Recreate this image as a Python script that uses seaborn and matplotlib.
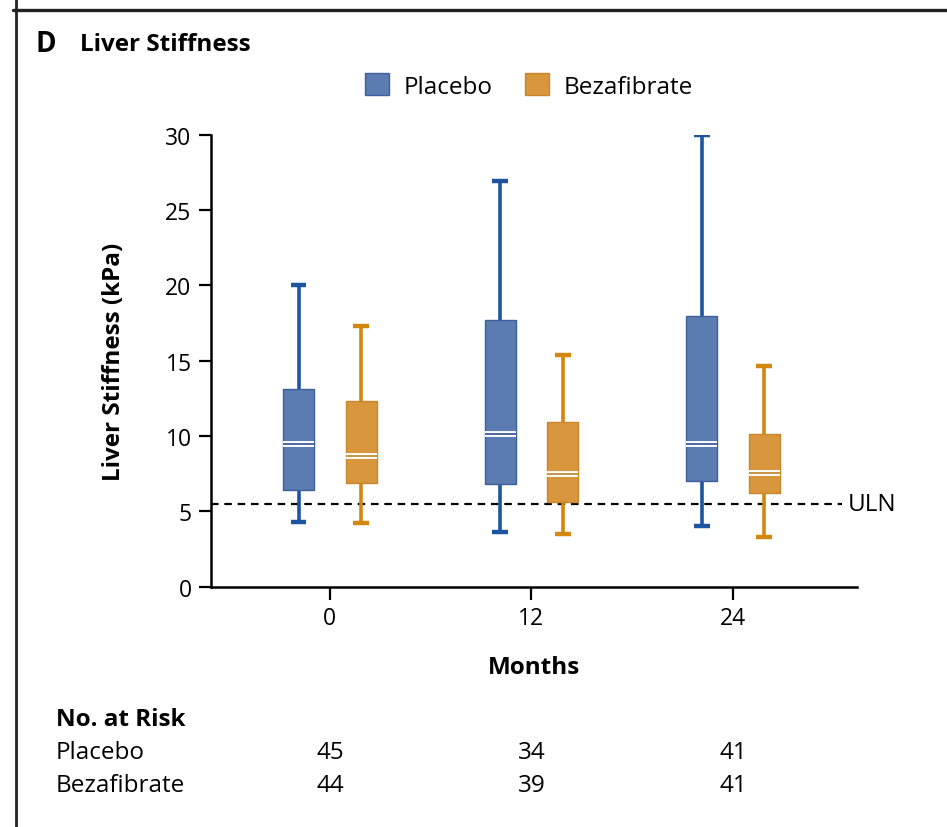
import matplotlib
matplotlib.use("Agg")
import matplotlib.pyplot as plt
import matplotlib.patheffects as pe
from matplotlib.patches import Patch
from matplotlib.lines import Line2D
import seaborn as sns
import pandas as pd

# ---- data (five-number summaries) ----
months = ["0", "12", "24"]
groups = ["Placebo", "Bezafibrate"]
placebo_low = [4.3, 3.6, 4.0]
placebo_q1 = [6.4, 6.8, 7.0]
placebo_med = [9.5, 10.15, 9.45]
placebo_q3 = [13.1, 17.7, 18.0]
placebo_high = [20.0, 26.9, 29.95]
beza_low = [4.2, 3.5, 3.3]
beza_q1 = [6.9, 5.6, 6.2]
beza_med = [8.65, 7.5, 7.55]
beza_q3 = [12.35, 10.9, 10.15]
beza_high = [17.3, 15.35, 14.65]
uln = 5.5
risk_placebo = [45, 34, 41]
risk_beza = [44, 39, 41]
yticks = [0, 5, 10, 15, 20, 25, 30]

rows = []
for i, m in enumerate(months):
    for v in (placebo_low[i], placebo_q1[i], placebo_med[i], placebo_q3[i], placebo_high[i]):
        rows.append({"Months": m, "Group": "Placebo", "Value": v})
    for v in (beza_low[i], beza_q1[i], beza_med[i], beza_q3[i], beza_high[i]):
        rows.append({"Months": m, "Group": "Bezafibrate", "Value": v})
df = pd.DataFrame(rows)

fills = ["#5b7cb1", "#d8963d"]
edges = ["#3d609c", "#c9862c"]
darks = ["#1d55a0", "#d4870e"]
meds = ["#1f3c88", "#b8760f"]

sns.set_style("white")
plt.rcParams["font.family"] = ["Open Sans", "DejaVu Sans"]
plt.rcParams["text.color"] = "black"
plt.rcParams["axes.labelcolor"] = "black"
plt.rcParams["xtick.color"] = "black"
plt.rcParams["ytick.color"] = "black"

FS = 17.5
TFS = 16.5
BFS = 17.5

fig = plt.figure(figsize=(9.47, 8.28), dpi=100)
ax = fig.add_axes([211 / 947, 1 - 587.7 / 828, (857 - 211) / 947, (587.7 - 135.7) / 828])

sns.boxplot(data=df, x="Months", y="Value", hue="Group", order=months, hue_order=groups,
            palette=fills, whis=(0, 100), width=0.62, gap=0.5, ax=ax, legend=False,
            showfliers=False)

for cont, fc, ec, dk, mc in zip(ax.containers, fills, edges, darks, meds):
    for b in cont.boxes:
        b.set_facecolor(fc)
        b.set_edgecolor(ec)
        b.set_linewidth(1.0)
    for w in cont.whiskers:
        w.set_color(dk)
        w.set_linewidth(2.6)
        w.set_zorder(1)
    for c in cont.caps:
        c.set_color(dk)
        c.set_linewidth(3.2)
        c.set_solid_capstyle("butt")
    for md in cont.medians:
        md.set_color(mc)
        md.set_linewidth(1.1)
        md.set_solid_capstyle("butt")
        md.set_path_effects([pe.Stroke(linewidth=4.2, foreground="white"), pe.Normal()])

ax.axhline(uln, xmin=0, xmax=(2.54 + 0.59) / (2.615 + 0.59), color="black",
           linestyle=(0, (3.4, 2.6)), linewidth=1.6, zorder=0.5)
ax.text(2.57, uln, "ULN", ha="left", va="center", fontsize=FS, clip_on=False)

ax.set_xlim(-0.59, 2.615)
ax.set_ylim(0, 30)
ax.set_yticks(yticks)
ax.set_yticklabels([str(t) for t in yticks], fontsize=TFS)
ax.set_xticks(range(len(months)))
ax.set_xticklabels(months, fontsize=TFS)
ax.tick_params(axis="both", direction="out", length=9, width=1.6, color="black",
               left=True, bottom=True, pad=5)
for s in ["top", "right"]:
    ax.spines[s].set_visible(False)
for s in ["left", "bottom"]:
    ax.spines[s].set_color("black")
    ax.spines[s].set_linewidth(1.8)

ax.set_xlabel("Months", fontsize=BFS, fontweight="bold", labelpad=18)
ax.set_ylabel("Liver Stiffness (kPa)", fontsize=BFS, fontweight="bold", labelpad=28)

handles = [Patch(facecolor=fills[i], edgecolor=edges[i], linewidth=1.0, label=groups[i]) for i in range(2)]
fig.legend(handles=handles, loc="center", bbox_to_anchor=(529 / 947, 1 - 87 / 828), ncol=2,
           frameon=False, fontsize=FS, handlelength=1.0, handleheight=1.0,
           handletextpad=0.6, columnspacing=1.3)

fig.text(36 / 947, 1 - 45 / 828, "D", fontsize=20, fontweight="bold", ha="left", va="center")
fig.text(80 / 947, 1 - 45 / 828, "Liver Stiffness", fontsize=BFS, fontweight="bold", ha="left", va="center")

fig.text(56 / 947, 1 - 720 / 828, "No. at Risk", fontsize=BFS, fontweight="bold", ha="left", va="center")
fig.text(56 / 947, 1 - 753 / 828, "Placebo", fontsize=FS, ha="left", va="center")
fig.text(56 / 947, 1 - 786 / 828, "Bezafibrate", fontsize=FS, ha="left", va="center")
trans = matplotlib.transforms.blended_transform_factory(ax.transData, fig.transFigure)
for i in range(len(months)):
    ax.text(i, 1 - 753 / 828, str(risk_placebo[i]), transform=trans, fontsize=FS,
            ha="center", va="center", clip_on=False)
    ax.text(i, 1 - 786 / 828, str(risk_beza[i]), transform=trans, fontsize=FS,
            ha="center", va="center", clip_on=False)

# panel frame lines
fig.add_artist(Line2D([13 / 947, 1], [1 - 11 / 828, 1 - 11 / 828], transform=fig.transFigure,
                      color="#222222", linewidth=2.4))
fig.add_artist(Line2D([16 / 947, 16 / 947], [0, 1], transform=fig.transFigure,
                      color="#222222", linewidth=2.0))

fig.savefig("out.png", dpi=100)
